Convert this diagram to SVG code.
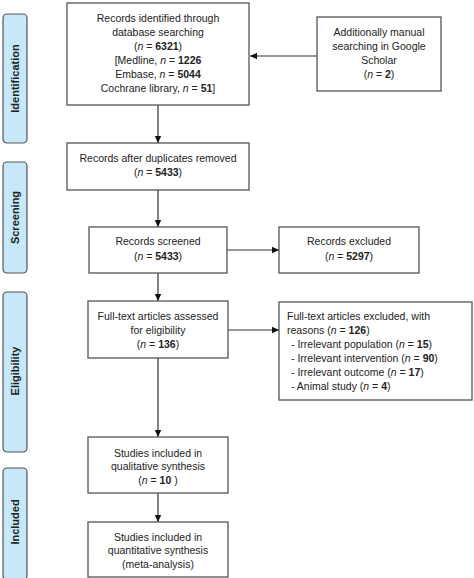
<svg xmlns="http://www.w3.org/2000/svg" width="474" height="578" viewBox="0 0 474 578">
<defs>
<style>
.box{fill:#fff;stroke:#555;stroke-width:1.3}
.side{fill:#c6e8f8;stroke:#555;stroke-width:1.2}
text{font-family:"Liberation Sans",Arial,sans-serif;font-size:10.5px;fill:#222}
.c{text-anchor:middle}
.lab{font-size:11px;font-weight:bold;text-anchor:middle;fill:#222}
.b{font-weight:bold}
.i{font-style:italic}
.con{stroke:#333;stroke-width:1.2;fill:none}
</style>
<marker id="ah" markerWidth="8" markerHeight="8" refX="7" refY="4" orient="auto" markerUnits="userSpaceOnUse">
<path d="M0,0.8 L7,4 L0,7.2 Z" fill="#111"/>
</marker>
</defs>
<rect width="474" height="578" fill="#fff"/>

<g id="side-identification">
<rect class="side" x="3" y="14" width="24" height="129" rx="4"/>
<text class="lab" transform="translate(19,78.5) rotate(-90)">Identification</text>
</g>
<g id="side-screening">
<rect class="side" x="3" y="162" width="24" height="111" rx="4"/>
<text class="lab" transform="translate(19,217.5) rotate(-90)">Screening</text>
</g>
<g id="side-eligibility">
<rect class="side" x="3" y="292" width="24" height="160" rx="4"/>
<text class="lab" transform="translate(19,371) rotate(-90)">Eligibility</text>
</g>
<g id="side-included">
<rect class="side" x="3" y="468" width="24" height="112" rx="4"/>
<text class="lab" transform="translate(19,522) rotate(-90)">Included</text>
</g>

<g id="connectors">
<line class="con" x1="317" y1="56" x2="250" y2="56" marker-end="url(#ah)"/>
<line class="con" x1="158" y1="105" x2="158" y2="143" marker-end="url(#ah)"/>
<line class="con" x1="158" y1="190" x2="158" y2="227" marker-end="url(#ah)"/>
<line class="con" x1="227" y1="250" x2="279" y2="250" marker-end="url(#ah)"/>
<line class="con" x1="158" y1="273" x2="158" y2="301" marker-end="url(#ah)"/>
<line class="con" x1="228" y1="330" x2="279" y2="330" marker-end="url(#ah)"/>
<line class="con" x1="158" y1="358" x2="158" y2="437" marker-end="url(#ah)"/>
<line class="con" x1="158" y1="493" x2="158" y2="522" marker-end="url(#ah)"/>
</g>

<g id="records-identified">
<rect class="box" x="67" y="3" width="182" height="102"/>
<text class="c" x="158" y="21.5">Records identified through</text>
<text class="c" x="158" y="35.5">database searching</text>
<text class="c" x="158" y="49.5">(<tspan class="i">n</tspan> = <tspan class="b">6321</tspan>)</text>
<text class="c" x="158" y="63.5">[Medline, <tspan class="i">n</tspan> = <tspan class="b">1226</tspan></text>
<text class="c" x="158" y="77.5">Embase, <tspan class="i">n</tspan> = <tspan class="b">5044</tspan></text>
<text class="c" x="158" y="91.5">Cochrane library, <tspan class="i">n</tspan> = <tspan class="b">51</tspan>]</text>
</g>

<g id="manual-search">
<rect class="box" x="317" y="17" width="124" height="74"/>
<text class="c" x="379" y="35.5">Additionally manual</text>
<text class="c" x="379" y="49.5">searching in Google</text>
<text class="c" x="379" y="63.5">Scholar</text>
<text class="c" x="379" y="77.5">(<tspan class="i">n</tspan> = <tspan class="b">2</tspan>)</text>
</g>

<g id="duplicates-removed">
<rect class="box" x="67" y="143" width="182" height="47"/>
<text class="c" x="158" y="161.5">Records after duplicates removed</text>
<text class="c" x="158" y="176">(<tspan class="i">n</tspan> = <tspan class="b">5433</tspan>)</text>
</g>

<g id="records-screened">
<rect class="box" x="89" y="227" width="138" height="46"/>
<text class="c" x="158" y="245">Records screened</text>
<text class="c" x="158" y="259.5">(<tspan class="i">n</tspan> = <tspan class="b">5433</tspan>)</text>
</g>

<g id="records-excluded">
<rect class="box" x="279" y="227" width="140" height="46"/>
<text class="c" x="349" y="245">Records excluded</text>
<text class="c" x="349" y="259.5">(<tspan class="i">n</tspan> = <tspan class="b">5297</tspan>)</text>
</g>

<g id="fulltext-assessed">
<rect class="box" x="88" y="301" width="140" height="57"/>
<text class="c" x="158" y="319.5">Full-text articles assessed</text>
<text class="c" x="158" y="333.5">for eligibility</text>
<text class="c" x="158" y="347.5">(<tspan class="i">n</tspan> = <tspan class="b">136</tspan>)</text>
</g>

<g id="fulltext-excluded">
<rect class="box" x="279" y="302" width="193" height="98"/>
<text x="287" y="319.5">Full-text articles excluded, with</text>
<text x="287" y="333.5">reasons (<tspan class="i">n</tspan> = <tspan class="b">126</tspan>)</text>
<text x="291" y="347.5">- Irrelevant population (<tspan class="i">n</tspan> = <tspan class="b">15</tspan>)</text>
<text x="291" y="361.5">- Irrelevant intervention (<tspan class="i">n</tspan> = <tspan class="b">90</tspan>)</text>
<text x="291" y="375.5">- Irrelevant outcome (<tspan class="i">n</tspan> = <tspan class="b">17</tspan>)</text>
<text x="291" y="389.5">- Animal study (<tspan class="i">n</tspan> = <tspan class="b">4</tspan>)</text>
</g>

<g id="qualitative">
<rect class="box" x="88" y="437" width="140" height="56"/>
<text class="c" x="158" y="456.5">Studies included in</text>
<text class="c" x="158" y="470">qualitative synthesis</text>
<text class="c" x="158" y="484">(<tspan class="i">n</tspan> = <tspan class="b">10</tspan> )</text>
</g>

<g id="quantitative">
<rect class="box" x="88" y="522" width="140" height="55"/>
<text class="c" x="158" y="540.5">Studies included in</text>
<text class="c" x="158" y="554">quantitative synthesis</text>
<text class="c" x="158" y="568">(meta-analysis)</text>
</g>
</svg>
